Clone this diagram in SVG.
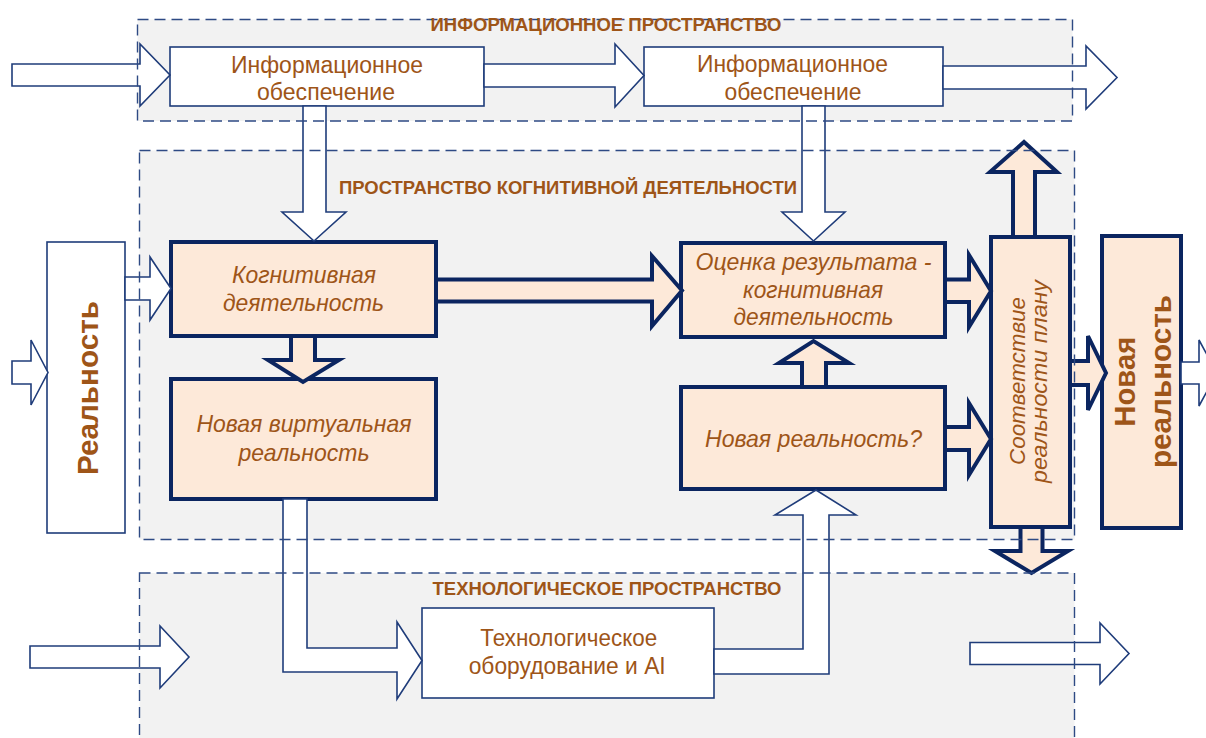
<svg xmlns="http://www.w3.org/2000/svg" width="1206" height="738" viewBox="0 0 1206 738">
<style>
.pfill{fill:#F2F2F2;stroke:none}
.pline{fill:none;stroke:#2E4A84;stroke-width:1.4;stroke-dasharray:11 6}
.wbox{fill:#FFFFFF;stroke:#1F3C7A;stroke-width:1.6}
.pbox{fill:#FDE9D9;stroke:#0B2560;stroke-width:4}
.warr{fill:#FFFFFF;stroke:#1F3C7A;stroke-width:1.6;stroke-linejoin:miter}
.parr{fill:#FDE9D9;stroke:#0B2560;stroke-width:4;stroke-linejoin:miter}
.t{fill:#9E5518;font-family:"Liberation Sans",Arial,sans-serif;text-anchor:middle}
.reg{font-size:23px}
.it{font-size:24px;font-style:italic}
.itv{font-size:22px;font-style:italic}
.bv{font-size:30px;font-weight:bold}
.ttl{fill:#9E5518;font-family:"Liberation Sans",Arial,sans-serif;font-size:18px;font-weight:bold}
</style>

<g id="panel-fills">
<rect class="pfill" x="137.5" y="19.5" width="935" height="101.5"/>
<rect class="pfill" x="139.5" y="150.5" width="935" height="389"/>
<rect class="pfill" x="139.5" y="573" width="935" height="200"/>
</g>

<g id="info1">
<rect class="wbox" x="170" y="47" width="314" height="59"/>
<text class="t reg" x="327" y="72.5" textLength="192" lengthAdjust="spacingAndGlyphs">Информационное</text>
<text class="t reg" x="326" y="100" textLength="138" lengthAdjust="spacingAndGlyphs">обеспечение</text>
</g>
<g id="info2">
<rect class="wbox" x="644" y="47" width="299" height="59"/>
<text class="t reg" x="792.5" y="72" textLength="191" lengthAdjust="spacingAndGlyphs">Информационное</text>
<text class="t reg" x="793" y="99.5" textLength="137" lengthAdjust="spacingAndGlyphs">обеспечение</text>
</g>
<g id="reality">
<rect class="wbox" x="47" y="242" width="78" height="291"/>
<text class="t bv" transform="translate(97.5,388) rotate(-90)" textLength="174" lengthAdjust="spacingAndGlyphs">Реальность</text>
</g>
<g id="cog1">
<rect class="pbox" x="171" y="242" width="265" height="94"/>
<text class="t it" x="304" y="282.5" textLength="144" lengthAdjust="spacingAndGlyphs">Когнитивная</text>
<text class="t it" x="303.5" y="311" textLength="161" lengthAdjust="spacingAndGlyphs">деятельность</text>
</g>
<g id="cog2">
<rect class="pbox" x="171" y="379" width="265" height="120"/>
<text class="t it" x="304" y="432" textLength="215" lengthAdjust="spacingAndGlyphs">Новая  виртуальная</text>
<text class="t it" x="304" y="460.5" textLength="131" lengthAdjust="spacingAndGlyphs">реальность</text>
</g>
<g id="eval">
<rect class="pbox" x="681" y="243" width="264" height="94"/>
<text class="t it" x="813.5" y="269.5" textLength="236" lengthAdjust="spacingAndGlyphs">Оценка результата -</text>
<text class="t it" x="813" y="297.5" textLength="140" lengthAdjust="spacingAndGlyphs">когнитивная</text>
<text class="t it" x="813.5" y="325" textLength="160" lengthAdjust="spacingAndGlyphs">деятельность</text>
</g>
<g id="newreal-q">
<rect class="pbox" x="681" y="387" width="264" height="102"/>
<text class="t it" x="813.5" y="446.5" textLength="217" lengthAdjust="spacingAndGlyphs">Новая  реальность?</text>
</g>
<g id="match">
<rect class="pbox" x="991" y="237" width="79" height="290"/>
<text class="t itv" transform="translate(1025,381) rotate(-90)" textLength="168" lengthAdjust="spacingAndGlyphs">Соответствие</text>
<text class="t itv" transform="translate(1046.5,381.5) rotate(-90)" textLength="203" lengthAdjust="spacingAndGlyphs">реальности плану</text>
</g>
<g id="newreal">
<rect class="pbox" x="1102" y="236" width="79" height="292"/>
<text class="t bv" transform="translate(1134.5,381.7) rotate(-90)" textLength="90" lengthAdjust="spacingAndGlyphs">Новая</text>
<text class="t bv" transform="translate(1171,381.5) rotate(-90)" textLength="173" lengthAdjust="spacingAndGlyphs">реальность</text>
</g>
<g id="tech">
<rect class="wbox" x="422" y="608" width="292" height="90"/>
<text class="t reg" x="568.8" y="645.7" textLength="177" lengthAdjust="spacingAndGlyphs">Технологическое</text>
<text class="t reg" x="567.2" y="674.3" textLength="197" lengthAdjust="spacingAndGlyphs">оборудование  и AI</text>
</g>

<g id="connectors">
<path class="warr" d="M12,64 H140 V44 L170,75 L140,106 V86 H12 Z"/>
<path class="warr" d="M484,64 H615 V44 L644,75.5 L615,107 V87 H484 Z"/>
<path class="warr" d="M943,66 H1086 V46 L1117,77.5 L1086,109 V89 H943 Z"/>
<path class="warr" d="M303,106 V212 H282 L314,241 L346,212 H326 V106 Z"/>
<path class="warr" d="M802,106 V212 H782 L813.5,241 L845,212 H825 V106 Z"/>
<path class="warr" d="M12,361 H31 V340 L48,372.5 L31,405 V384 H12 Z"/>
<path class="warr" d="M125,277 H150 V257 L171,288.5 L150,320 V300 H125 Z"/>
<path class="warr" d="M1181,362 H1199 V340 L1217,373 L1199,406 V384 H1181 Z"/>
<path class="warr" d="M30,646 H160 V626 L189,657 L160,688 V668 H30 Z"/>
<path class="warr" d="M970,642.5 H1100 V623 L1129,653.5 L1100,684 V664.5 H970 Z"/>
<path class="warr" d="M283,499 V672 H397 V699 L422,660.5 L397,622 V648 H307 V499 Z"/>
<path class="warr" d="M714,649 H803 V515 H775 L816,490 L856,515 H829 V674 H714 Z"/>
<path class="parr" d="M291,338 V360 H268 L303,382 L339,360 H315 V338"/>
<path class="parr" d="M438,279.5 H652 V256 L682,290.5 L652,326 V301.5 H438"/>
<path class="parr" d="M947,279.5 H969 V255 L991,291 L969,327 V302 H947"/>
<path class="parr" d="M947,427 H969 V403 L991,439 L969,475 V450 H947"/>
<path class="parr" d="M802,385 V363 H779 L813.5,341 L849,363 H826 V385"/>
<path class="parr" d="M1013,235 V172 H990 L1024,142 L1057,172 H1035 V235"/>
<path class="parr" d="M1020.5,529 V551 H995 L1031.5,573 L1068,551 H1042.5 V529"/>
<path class="parr" d="M1072,361 H1088 V336 L1106,373 L1088,410 V385 H1072"/>
</g>

<g id="panel-outlines">
<rect class="pline" x="137.5" y="19.5" width="935" height="101.5"/>
<rect class="pline" x="139.5" y="150.5" width="935" height="389"/>
<rect class="pline" x="139.5" y="573" width="935" height="200"/>
</g>

<g id="titles">
<text class="ttl" x="430.5" y="30.5" textLength="351" lengthAdjust="spacingAndGlyphs">ИНФОРМАЦИОННОЕ ПРОСТРАНСТВО</text>
<text class="ttl" x="339" y="193.5" textLength="458" lengthAdjust="spacingAndGlyphs">ПРОСТРАНСТВО КОГНИТИВНОЙ ДЕЯТЕЛЬНОСТИ</text>
<text class="ttl" x="432.5" y="595" textLength="349" lengthAdjust="spacingAndGlyphs">ТЕХНОЛОГИЧЕСКОЕ ПРОСТРАНСТВО</text>
</g>
</svg>
